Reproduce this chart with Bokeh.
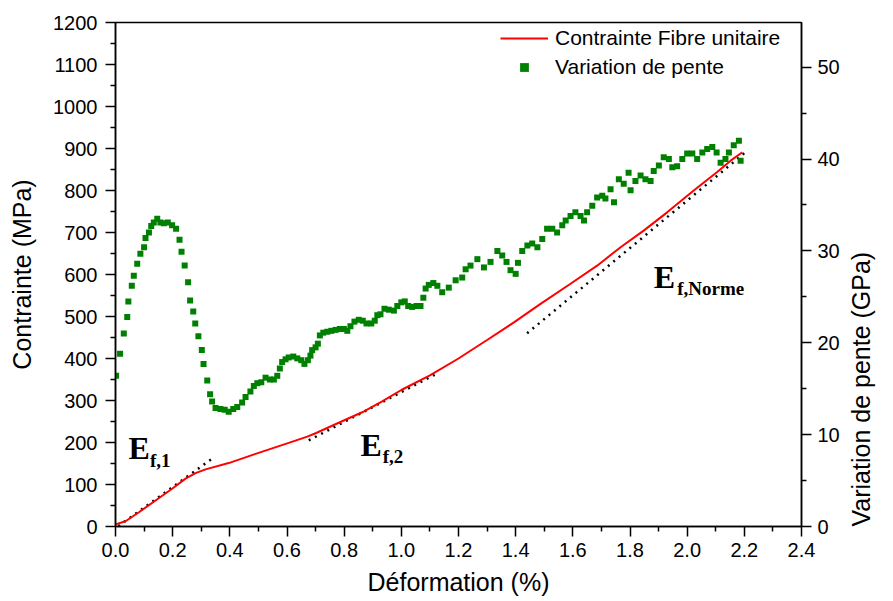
import math
from bokeh.plotting import figure
from bokeh.models import (Range1d, LinearAxis, FixedTicker, PrintfTickFormatter,
                          Legend, LegendItem, Label, Axis)
from bokeh.embed import file_html
from bokeh.resources import INLINE

# --- Data ---
# Stress-strain curve (Déformation %, Contrainte MPa)
strain_curve = [0.0, 0.035, 0.082, 0.14, 0.198, 0.245, 0.28, 0.315, 0.396, 0.49, 0.606,
                0.671, 0.70, 0.781, 0.863, 0.933, 1.0, 1.1, 1.2, 1.30, 1.394, 1.487,
                1.592, 1.685, 1.767, 1.849, 1.930, 2.023, 2.105, 2.152, 2.193]
stress_curve = [5, 12.6, 34, 62, 90, 114, 127, 136, 151, 173, 199,
                214, 222, 247, 272, 298, 325, 360, 400, 444, 486, 530,
                578, 621, 665, 705, 748, 800, 844, 871, 891]

# Slope variation (Déformation %, Variation de pente GPa)
strain_slope = [0.002, 0.016, 0.029, 0.041, 0.045, 0.057, 0.064, 0.076, 0.087, 0.100,
                0.105, 0.117, 0.125, 0.134, 0.146, 0.157, 0.169, 0.183, 0.198, 0.212,
                0.224, 0.231, 0.242, 0.254, 0.261, 0.272, 0.279, 0.290, 0.302, 0.308,
                0.321, 0.331, 0.338, 0.350, 0.367, 0.382, 0.396, 0.412, 0.426, 0.443,
                0.455, 0.472, 0.484, 0.496, 0.510, 0.525, 0.540, 0.554, 0.566, 0.575,
                0.583, 0.595, 0.606, 0.622, 0.636, 0.650, 0.661, 0.673, 0.682, 0.688,
                0.700, 0.708, 0.715, 0.727, 0.741, 0.755, 0.770, 0.785, 0.799, 0.811,
                0.822, 0.836, 0.851, 0.865, 0.878, 0.895, 0.907, 0.916, 0.927, 0.941,
                0.956, 0.974, 0.986, 1.000, 1.012, 1.024, 1.038, 1.053, 1.067, 1.077,
                1.085, 1.096, 1.112, 1.126, 1.143, 1.166, 1.190, 1.213, 1.225, 1.242,
                1.266, 1.289, 1.312, 1.336, 1.353, 1.368, 1.382, 1.400, 1.408, 1.423,
                1.441, 1.458, 1.476, 1.493, 1.510, 1.528, 1.545, 1.563, 1.575, 1.592,
                1.609, 1.627, 1.639, 1.650, 1.668, 1.685, 1.703, 1.714, 1.732, 1.744,
                1.761, 1.778, 1.795, 1.802, 1.819, 1.837, 1.854, 1.872, 1.883, 1.901,
                1.918, 1.936, 1.948, 1.965, 1.983, 2.000, 2.018, 2.035, 2.053, 2.070,
                2.088, 2.103, 2.117, 2.134, 2.146, 2.163, 2.181, 2.187]
slope_gpa = [16.4, 18.8, 21.0, 22.8, 24.5, 26.2, 27.3, 28.6, 29.7, 30.4,
             31.4, 32.0, 32.7, 33.1, 33.5, 33.1, 33.0, 33.1, 32.8, 32.4,
             31.2, 29.9, 28.4, 26.6, 24.6, 23.4, 22.1, 20.7, 19.2, 17.7,
             15.9, 14.4, 13.6, 12.9, 12.8, 12.7, 12.5, 12.8, 13.0, 13.5,
             14.1, 14.7, 15.3, 15.6, 15.7, 16.2, 16.0, 16.0, 16.4, 17.2,
             17.9, 18.2, 18.4, 18.5, 18.3, 18.1, 17.7, 18.1, 18.6, 19.2,
             19.5, 19.9, 20.8, 21.1, 21.2, 21.3, 21.4, 21.5, 21.5, 21.3,
             21.8, 22.3, 22.5, 22.4, 22.1, 22.1, 22.4, 23.0, 23.1, 23.7,
             23.6, 23.5, 24.0, 24.4, 24.5, 24.0, 23.9, 24.0, 24.0, 24.9,
             25.9, 26.3, 26.5, 26.2, 25.5, 26.0, 26.8, 27.1, 28.0, 28.4,
             29.1, 28.2, 28.8, 30.0, 29.5, 28.8, 27.9, 27.5, 28.7, 30.0,
             30.6, 30.8, 30.4, 31.3, 32.4, 32.4, 32.0, 32.8, 33.3, 33.8,
             34.2, 33.8, 33.3, 34.2, 34.9, 35.8, 36.0, 35.7, 36.7, 35.3,
             37.8, 37.3, 38.5, 36.6, 37.6, 38.2, 37.8, 37.6, 38.7, 39.3,
             40.2, 40.0, 39.1, 39.2, 40.0, 40.6, 40.6, 40.0, 40.7, 41.1,
             41.3, 40.7, 39.6, 40.0, 40.7, 41.5, 42.0, 39.8]

# Linear fits (dotted tangents)
fit1_x = [0.01, 0.335]
fit1_y = [1, 160]
fit2_x = [0.676, 1.13]
fit2_y = [205, 366]
fit3_x = [1.44, 2.204]
fit3_y = [460, 891]

# Ticks
x_ticks = [0.0, 0.2, 0.4, 0.6, 0.8, 1.0, 1.2, 1.4, 1.6, 1.8, 2.0, 2.2, 2.4]
x_minor = [0.1, 0.3, 0.5, 0.7, 0.9, 1.1, 1.3, 1.5, 1.7, 1.9, 2.1, 2.3]
y_ticks = [0, 100, 200, 300, 400, 500, 600, 700, 800, 900, 1000, 1100, 1200]
y_minor = [50, 150, 250, 350, 450, 550, 650, 750, 850, 950, 1050, 1150]
r_ticks = [0, 10, 20, 30, 40, 50]
r_minor = [5, 15, 25, 35, 45]

SANS = "Liberation Sans"
SERIF = "Liberation Serif"

p = figure(width=893, height=601, output_backend="svg", toolbar_location=None,
           x_range=Range1d(0, 2.4), y_range=Range1d(0, 1200),
           min_border_left=115, min_border_right=92, min_border_top=22,
           min_border_bottom=75, background_fill_color="white",
           border_fill_color="white")
p.extra_y_ranges = {"gpa": Range1d(0, 54.86)}
p.grid.visible = False
p.outline_line_color = "black"
p.outline_line_width = 1.5


def style_axis(ax, label_size="25px"):
    ax.axis_line_color = "black"
    ax.axis_line_width = 1.5
    ax.major_tick_line_color = "black"
    ax.major_tick_line_width = 1.5
    ax.minor_tick_line_color = "black"
    ax.minor_tick_line_width = 1.5
    ax.major_tick_out = 10
    ax.major_tick_in = 0
    ax.minor_tick_out = 5
    ax.minor_tick_in = 0
    ax.major_label_text_font = SANS
    ax.major_label_text_font_size = "20px"
    ax.major_label_text_color = "black"
    ax.axis_label_text_font = SANS
    ax.axis_label_text_font_size = label_size
    ax.axis_label_text_font_style = "normal"
    ax.axis_label_text_color = "black"


xax = p.xaxis[0]
style_axis(xax)
xax.ticker = FixedTicker(ticks=x_ticks, minor_ticks=x_minor)
xax.formatter = PrintfTickFormatter(format="%.1f")
xax.axis_label = "Déformation (%)"
xax.major_label_standoff = 6
xax.axis_label_standoff = 8

yax = p.yaxis[0]
style_axis(yax)
yax.ticker = FixedTicker(ticks=y_ticks, minor_ticks=y_minor)
yax.axis_label = "Contrainte (MPa)"
yax.major_label_standoff = 8
yax.axis_label_standoff = 14

rax = LinearAxis(y_range_name="gpa")
style_axis(rax)
rax.ticker = FixedTicker(ticks=r_ticks, minor_ticks=r_minor)
rax.major_label_standoff = 6
rax.axis_label = "Variation de pente (GPa)"
rax.axis_label_orientation = math.pi / 2   # read bottom-to-top
rax.axis_label_standoff = 18
if "axis_label_align" in Axis.properties():
    rax.axis_label_align = "start"
p.add_layout(rax, "right")

# fits
for fx, fy in [(fit1_x, fit1_y), (fit2_x, fit2_y), (fit3_x, fit3_y)]:
    p.line(fx, fy, line_color="black", line_width=2.5, line_dash="2 5")

r_red = p.line(strain_curve, stress_curve, line_color="#ff0000", line_width=2)
r_green = p.scatter(strain_slope, slope_gpa, marker="square", size=6,
                    fill_color="#008000", line_color=None, y_range_name="gpa")

legend = Legend(items=[LegendItem(label="Contrainte Fibre unitaire", renderers=[r_red]),
                       LegendItem(label="Variation de pente", renderers=[r_green])],
                location=(385, 447), orientation="vertical",
                label_text_font=SANS, label_text_font_size="21px",
                label_text_color="black",
                glyph_width=48, glyph_height=22, label_height=22,
                label_standoff=7, spacing=5, padding=4, margin=0,
                border_line_color=None, background_fill_alpha=0)
p.add_layout(legend)

# annotations E_f
annots = [("E", 0.0455, 186, "32px"), ("f,1", 0.1207, 158, "19px"),
          ("E", 0.857, 194, "32px"), ("f,2", 0.935, 166, "19px"),
          ("E", 1.883, 595, "32px"), ("f,Norme", 1.965, 567, "19px")]
for txt, ax_, ay_, fs in annots:
    p.add_layout(Label(x=ax_, y=ay_, text=txt, text_font=SERIF, text_font_size=fs,
                       text_font_style="bold", text_color="black",
                       text_baseline="alphabetic", text_align="left"))

open("out.html", "w").write(file_html(p, INLINE))
